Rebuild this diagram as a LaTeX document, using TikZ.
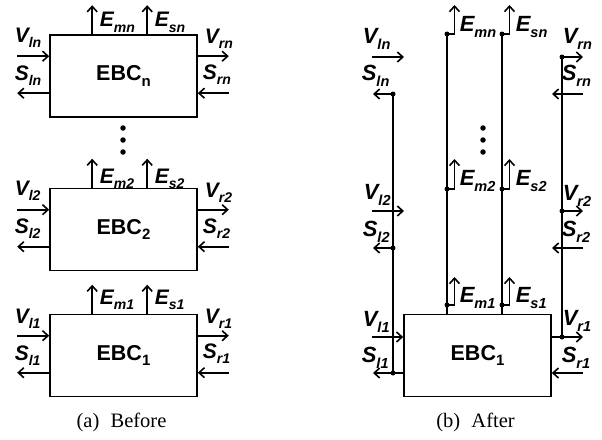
\documentclass[tikz,border=0pt]{standalone}
\usepackage{fontspec}
\setmainfont{Liberation Serif}
\newfontfamily\arialf{Liberation Sans}
\usetikzlibrary{arrows.meta,calc}
\newcommand{\lab}[2]{{\arialf\bfseries\itshape\fontsize{21}{21}\selectfont #1\raisebox{-5.5pt}{\fontsize{14}{14}\selectfont #2}}}
\newcommand{\labb}[2]{{\arialf\bfseries\itshape\fontsize{22}{22}\selectfont #1\raisebox{-6pt}{\fontsize{14.5}{14.5}\selectfont #2}}}
\newcommand{\ebc}[1]{{\arialf\bfseries\fontsize{21.5}{21.5}\selectfont EBC\raisebox{-5.5pt}{\fontsize{15}{15}\selectfont #1}}}
\begin{document}
\begin{tikzpicture}[x=1pt,y=-1pt,line width=1.6pt,
  box/.style={draw, minimum width=147pt, minimum height=82pt, inner sep=0pt},
  arr/.style={-{Straight Barb[length=5.5pt,width=10pt]}},
  dot/.style={circle, fill, inner sep=0pt, minimum size=5pt},
  vdot/.style={circle, fill, inner sep=0pt, minimum size=5.5pt},
  lbl/.style={anchor=base west, inner sep=0pt},
  captxt/.style={anchor=base, inner sep=0pt, font=\fontsize{20.5}{20.5}\selectfont}]
\useasboundingbox (0,0) rectangle (602,439);
% ---------------- (a) Before ----------------
\node[box] (bn) at (123.5,76) {\ebc{n}};
\node[box] (b2) at (123.5,229.5) {\ebc{2}};
\node[box] (b1) at (123.5,355.5) {\ebc{1}};
\foreach \b in {bn,b2,b1}{
  \draw[arr] ($(\b.north west)+(-32,22)$) coordinate (\b-vs) -- ($(\b.north west)+(0,22)$);
  \draw[arr] ($(\b.north west)+(0,59)$) -- ($(\b.north west)+(-32,59)$) coordinate (\b-se);
  \draw[arr] ($(\b.north east)+(0,22)$) -- ($(\b.north east)+(31,22)$) coordinate (\b-ve);
  \draw[arr] ($(\b.north east)+(31,59)$) coordinate (\b-ss) -- ($(\b.north east)+(0,59)$);
  \draw[arr] ($(\b.north west)+(43,0)$) -- ($(\b.north west)+(43,-29)$) coordinate (\b-em);
  \draw[arr] ($(\b.north west)+(98,0)$) -- ($(\b.north west)+(98,-29)$) coordinate (\b-es);
}
\node[lbl] (aVln) at (14,42) {\lab{V}{ln}};
\node[lbl] (aSln) at (14,80) {\lab{S}{ln}};
\node[lbl] (aEmn) at (99,27) {\lab{E}{mn}};
\node[lbl] (aEsn) at (154,27) {\lab{E}{sn}};
\node[lbl] (aVrn) at (204,43) {\lab{V}{rn}};
\node[lbl] (aSrn) at (202,79) {\lab{S}{rn}};
\node[lbl] (aVl2) at (14,195) {\lab{V}{l2}};
\node[lbl] (aSl2) at (14,233) {\lab{S}{l2}};
\node[lbl] (aEm2) at (99,183) {\lab{E}{m2}};
\node[lbl] (aEs2) at (154,183) {\lab{E}{s2}};
\node[lbl] (aVr2) at (204,197) {\lab{V}{r2}};
\node[lbl] (aSr2) at (202,233) {\lab{S}{r2}};
\node[lbl] (aVl1) at (14,323) {\lab{V}{l1}};
\node[lbl] (aSl1) at (14,360) {\lab{S}{l1}};
\node[lbl] (aEm1) at (99,304) {\lab{E}{m1}};
\node[lbl] (aEs1) at (154,304) {\lab{E}{s1}};
\node[lbl] (aVr1) at (204,323) {\lab{V}{r1}};
\node[lbl] (aSr1) at (202,358) {\lab{S}{r1}};
\node[vdot] (ad1) at (123,128) {};
\node[vdot] (ad2) at (123,140) {};
\node[vdot] (ad3) at (123,152) {};
\node[captxt] (capa) at (121.5,427) {(a)\hspace{0.3em} Before};
% ---------------- (b) After ----------------
\node[box] (r1) at (477.5,355.5) {\ebc{1}};
% left bus
\node[dot] (Lt) at (393,94) {};
\node[dot] (Lm) at (393,248) {};
\node[dot] (Lb) at (393,373) {};
\draw (Lt.center) -- (Lb.center);
\coordinate (Slt) at (373,94);
\coordinate (Slm) at (373,248);
\coordinate (Slb) at (373,373);
\draw[arr] (Lt.center) -- (Slt);
\draw[arr] (Lm.center) -- (Slm);
\draw[arr] (r1.west |- Lb) -- (Slb);
\coordinate (Vlt) at (372,57);
\coordinate (Vlm) at (372,211);
\coordinate (Vlb) at (372,337);
\draw[arr] (Vlt) -- (404,57) coordinate (Vlte);
\draw[arr] (Vlm) -- (404,211) coordinate (Vlme);
\draw[arr] (Vlb) -- (r1.west |- Vlb);
% right bus
\node[dot] (Rt) at (562,57) {};
\node[dot] (Rm) at (562,211) {};
\node[dot] (Rb) at (562,337) {};
\draw (Rt.center) -- (Rb.center);
\draw[arr] (Rt.center) -- (583,57) coordinate (Vrt);
\draw[arr] (Rm.center) -- (583,211) coordinate (Vrm);
\draw[arr] (r1.east |- Rb) -- (583,337) coordinate (Vrb);
\coordinate (Srt) at (583,94);
\coordinate (Srm) at (583,248);
\coordinate (Srb) at (583,373);
\draw[arr] (Srt) -- (552,94);
\draw[arr] (Srm) -- (552,248);
\draw[arr] (Srb) -- (r1.east |- Srb);
% E buses
\node[dot] (Mt) at (447,34) {};
\node[dot] (Mm) at (447,189) {};
\node[dot] (Mb) at (447,305) {};
\node[dot] (St) at (502,34) {};
\node[dot] (Sm) at (502,189) {};
\node[dot] (Sb) at (502,305) {};
\draw (Mt.center) -- (r1.north -| Mt);
\draw (St.center) -- (r1.north -| St);
\draw[arr] (Mt.center) -- (454.5,34) -- (454.5,5);
\draw[arr] (Mm.center) -- (454.5,189) -- (454.5,159);
\draw[arr] (Mb.center) -- (454.5,305) -- (454.5,277);
\draw[arr] (St.center) -- (509.5,34) -- (509.5,5);
\draw[arr] (Sm.center) -- (509.5,189) -- (509.5,159);
\draw[arr] (Sb.center) -- (509.5,305) -- (509.5,277);
\node[lbl] (bVln) at (362,43) {\labb{V}{ln}};
\node[lbl] (bSln) at (361,80) {\labb{S}{ln}};
\node[lbl] (bEmn) at (459,31) {\labb{E}{mn}};
\node[lbl] (bEsn) at (515,31) {\labb{E}{sn}};
\node[lbl] (bVrn) at (562,43) {\labb{V}{rn}};
\node[lbl] (bSrn) at (561,80) {\labb{S}{rn}};
\node[lbl] (bVl2) at (363,199) {\labb{V}{l2}};
\node[lbl] (bSl2) at (362,236) {\labb{S}{l2}};
\node[lbl] (bEm2) at (459,185) {\labb{E}{m2}};
\node[lbl] (bEs2) at (515,185) {\labb{E}{s2}};
\node[lbl] (bVr2) at (562,200) {\labb{V}{r2}};
\node[lbl] (bSr2) at (561,236) {\labb{S}{r2}};
\node[lbl] (bVl1) at (362,326) {\labb{V}{l1}};
\node[lbl] (bSl1) at (361,362) {\labb{S}{l1}};
\node[lbl] (bEm1) at (459,302) {\labb{E}{m1}};
\node[lbl] (bEs1) at (515,302) {\labb{E}{s1}};
\node[lbl] (bVr1) at (562,325) {\labb{V}{r1}};
\node[lbl] (bSr1) at (561,362) {\labb{S}{r1}};
\node[vdot] (bd1) at (483,128) {};
\node[vdot] (bd2) at (483,140) {};
\node[vdot] (bd3) at (483,152) {};
\node[captxt] (capb) at (475.5,427) {(b)\hspace{0.3em} After};
\end{tikzpicture}
\end{document}
